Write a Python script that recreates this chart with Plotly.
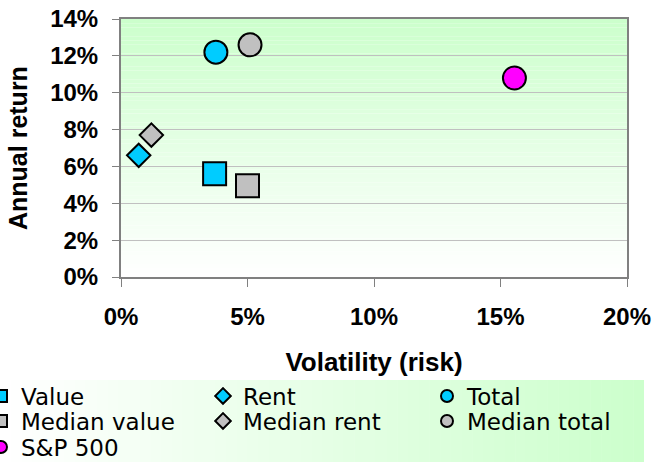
import plotly.graph_objects as go

# Data (volatility, annual return) as fractions
series_names = ["Value", "Median value", "S&P 500", "Rent", "Median rent", "Total", "Median total"]
volatility = [0.037, 0.050, 0.1555, 0.007, 0.012, 0.0375, 0.051]
annual_return = [0.056, 0.0495, 0.108, 0.066, 0.077, 0.122, 0.126]

x_ticks = [0, 0.05, 0.10, 0.15, 0.20]
y_ticks = [0, 0.02, 0.04, 0.06, 0.08, 0.10, 0.12, 0.14]

CYAN = "#00CCFF"
GRAY = "#C0C0C0"
MAGENTA = "#FF00FF"
styles = {
    "Value": dict(symbol="square", color=CYAN, size=23),
    "Median value": dict(symbol="square", color=GRAY, size=23),
    "S&P 500": dict(symbol="circle", color=MAGENTA, size=23),
    "Rent": dict(symbol="diamond", color=CYAN, size=18),
    "Median rent": dict(symbol="diamond", color=GRAY, size=18),
    "Total": dict(symbol="circle", color=CYAN, size=23),
    "Median total": dict(symbol="circle", color=GRAY, size=23),
}
# legend grid slot (column, row) for each series
legend_slots = {
    "Value": (0, 0), "Median value": (0, 1), "S&P 500": (0, 2),
    "Rent": (1, 0), "Median rent": (1, 1),
    "Total": (2, 0), "Median total": (2, 1),
}

W, H = 654, 462
PL, PR, PT, PB = 121, 627, 19, 277  # plot area in pixels
FONT = "Liberation Sans, Arial, sans-serif"
LEG_FONT = "DejaVu Sans, Liberation Sans, sans-serif"
COL_X = [-19, 203, 427]       # legend left edges (px)
ROW_Y = [396, 421, 447]       # legend row centres (px)

def px_x(v):
    return (v - PL) / (PR - PL)

def px_y(v):
    return (PB - v) / (PB - PT)

fig = go.Figure()
legends = {}
for i, (name, xv, yv) in enumerate(zip(series_names, volatility, annual_return)):
    st = styles[name]
    lid = "legend" if i == 0 else "legend%d" % (i + 1)
    col, row = legend_slots[name]
    legends[lid] = dict(
        x=px_x(COL_X[col]), y=px_y(ROW_Y[row]),
        xref="paper", yref="paper", xanchor="left", yanchor="middle",
        bgcolor="rgba(0,0,0,0)", borderwidth=0, itemsizing="constant",
        font=dict(family=LEG_FONT, size=23, color="black"), orientation="v",
    )
    fig.add_trace(go.Scatter(
        x=[xv], y=[yv], mode="markers", name=name, legend=lid,
        marker=dict(symbol=st["symbol"], color=st["color"], size=st["size"],
                    line=dict(color="black", width=2)),
        cliponaxis=False,
    ))

shapes = []
# plot area gradient (top light green -> bottom white)
n = 60
top = (204, 255, 204)
for i in range(n):
    t = i / (n - 1)
    c = tuple(round(top[k] + (255 - top[k]) * t) for k in range(3))
    shapes.append(dict(type="rect", xref="x domain", yref="y domain",
                       x0=0, x1=1, y0=1 - (i + 1) / n, y1=1 - i / n,
                       fillcolor="rgb(%d,%d,%d)" % c, line=dict(width=0), layer="below"))
# legend band gradient (left white -> right light green)
lx0, lx1, ly0, ly1 = 0, 644, 380, 462
m = 60
for i in range(m):
    t = i / (m - 1)
    c = tuple(round(255 + (top[k] - 255) * t) for k in range(3))
    xa = lx0 + (lx1 - lx0) * i / m
    xb = lx0 + (lx1 - lx0) * (i + 1) / m + 0.5
    shapes.append(dict(type="rect", xref="paper", yref="paper",
                       x0=px_x(xa), x1=px_x(min(xb, lx1)),
                       y0=px_y(ly1), y1=px_y(ly0),
                       fillcolor="rgb(%d,%d,%d)" % c, line=dict(width=0), layer="below"))

fig.update_layout(
    width=W, height=H,
    margin=dict(l=PL, r=W - PR, t=PT, b=H - PB, autoexpand=False),
    paper_bgcolor="white", plot_bgcolor="rgba(0,0,0,0)",
    font=dict(family=FONT, color="black"),
    shapes=shapes,
    showlegend=True,
    annotations=[dict(
        text="<b>Annual return</b>", textangle=-90,
        xref="paper", yref="paper", x=px_x(18), y=0.5,
        xanchor="center", yanchor="middle", showarrow=False,
        font=dict(family=FONT, size=25, color="black"),
    )],
    xaxis=dict(range=[0, 0.2], tickvals=x_ticks, tickformat=".0%",
               showgrid=False, zeroline=False,
               showline=True, linecolor="#808080", linewidth=2, mirror=True,
               ticks="outside", ticklen=8, tickcolor="#808080", tickwidth=1,
               ticklabelstandoff=9,
               tickfont=dict(family=FONT, size=24, color="black", weight="bold"),
               title=dict(text="<b>Volatility (risk)</b>", standoff=24,
                          font=dict(family=FONT, size=26, color="black"))),
    yaxis=dict(range=[0, 0.14], tickvals=y_ticks, tickformat=".0%",
               showgrid=True, gridcolor="#C0C0C0", gridwidth=1, zeroline=False,
               showline=True, linecolor="#808080", linewidth=2, mirror=True,
               ticks="outside", ticklen=7, tickcolor="#808080", tickwidth=1,
               ticklabelstandoff=9,
               tickfont=dict(family=FONT, size=24, color="black", weight="bold")),
    **legends,
)

fig.write_html("out.html", config={"displayModeBar": False},
               post_script="document.body.style.margin='0';")
